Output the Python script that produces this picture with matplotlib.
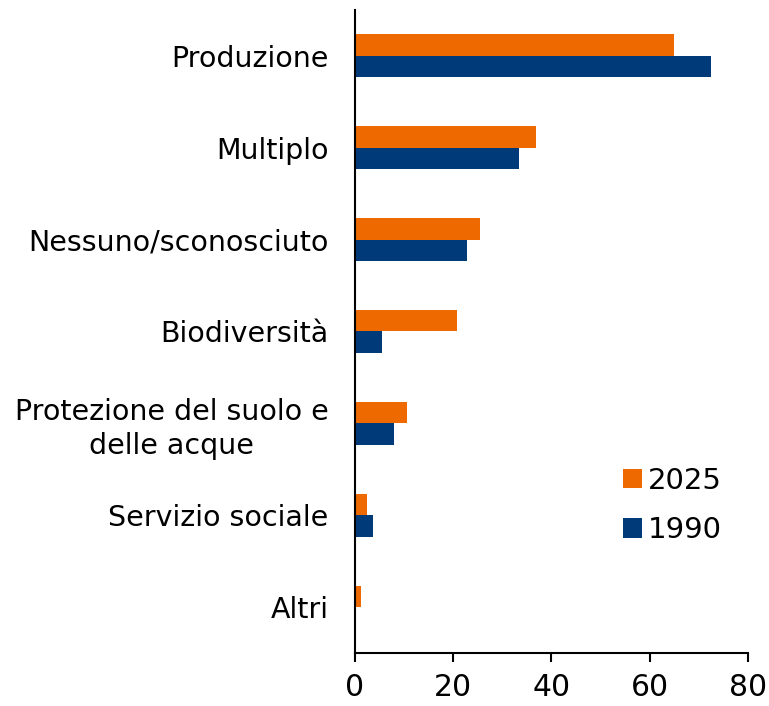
import numpy as np
import matplotlib.pyplot as plt

categories = ["Produzione", "Multiplo", "Nessuno/sconosciuto", "Biodiversità",
              "Protezione del suolo e\ndelle acque", "Servizio sociale", "Altri"]
values_2025 = [64.9, 36.8, 25.4, 20.8, 10.6, 2.4, 1.2]
values_1990 = [72.5, 33.4, 22.8, 5.5, 7.9, 3.7, 0.0]

orange = "#EE6A00"
blue = "#003A78"

fig = plt.figure(figsize=(7.69, 7.06), dpi=100)
ax = fig.add_axes([0.4616, 0.075, 0.5111, 0.911])

y = np.arange(len(categories))
h = 0.235
ax.barh(y - h / 2, values_2025, height=h, color=orange, label="2025")
ax.barh(y + h / 2, values_1990, height=h, color=blue, label="1990")

ax.set_ylim(len(categories) - 0.5, -0.5)
ax.set_xlim(0, 80)
ax.set_xticks([0, 20, 40, 60, 80])
ax.set_yticks(y)
ax.set_yticklabels(categories, multialignment="center", linespacing=1.25)
ax.tick_params(axis="y", length=0, pad=19, labelsize=20.5)
ax.tick_params(axis="x", length=6.5, width=1.5, pad=8, labelsize=21.5)

for s in ["top", "right"]:
    ax.spines[s].set_visible(False)
for s in ["left", "bottom"]:
    ax.spines[s].set_linewidth(1.5)

ax.legend(loc="lower right", bbox_to_anchor=(1.0, 0.128), frameon=False,
          fontsize=21, handlelength=0.65, handleheight=0.65, handletextpad=0.2,
          labelspacing=0.75)

fig.savefig("out.png", dpi=100)
